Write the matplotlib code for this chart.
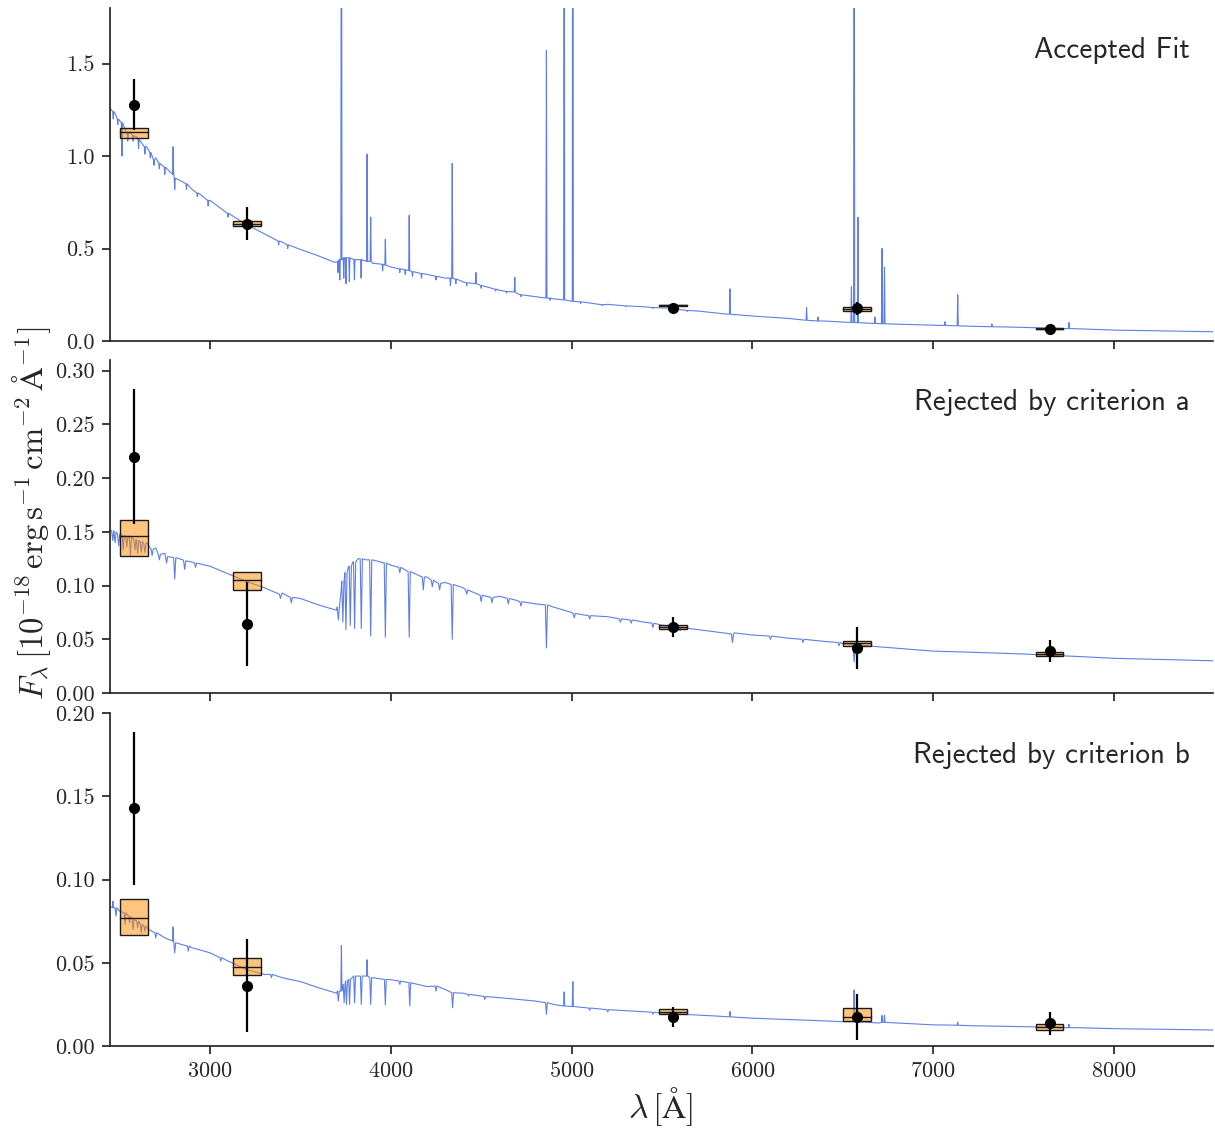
import numpy as np
import matplotlib
matplotlib.use("Agg")
import matplotlib.pyplot as plt
from matplotlib.patches import Rectangle

plt.rcParams.update({
    "font.family": "serif",
    "font.serif": ["cmr10"],
    "mathtext.fontset": "cm",
    "axes.formatter.use_mathtext": True,
})

# ---------------- photometric bands ----------------
band_wave = [2580, 3205, 5563, 6581, 7644]
band_halfwidth = [77, 77, 77, 77, 77]

# ---------------- panel 1: accepted fit ----------------
cont_wave_a = [2447, 2480, 2520, 2560, 2600, 2650, 2700, 2750, 2800, 2850, 2900, 2950,
               3000, 3100, 3200, 3300, 3400, 3500, 3600, 3690, 3760, 3820, 3900, 4000,
               4100, 4200, 4300, 4400, 4500, 4600, 4700, 4800, 4900, 5000, 5200, 5400,
               5550, 5700, 5850, 6000, 6200, 6400, 6520, 6650, 6800, 7000, 7200, 7400,
               7600, 7800, 8000, 8300, 8548]
cont_flux_a = [1.26, 1.22, 1.17, 1.13, 1.10, 1.05, 0.99, 0.94, 0.90, 0.86, 0.82, 0.79,
               0.76, 0.69, 0.63, 0.58, 0.535, 0.495, 0.46, 0.425, 0.45, 0.44, 0.42, 0.40,
               0.38, 0.36, 0.34, 0.32, 0.30, 0.275, 0.256, 0.24, 0.228, 0.215, 0.198, 0.185,
               0.177, 0.162, 0.146, 0.135, 0.122, 0.108, 0.101, 0.096, 0.091, 0.086, 0.080, 0.076,
               0.071, 0.066, 0.059, 0.054, 0.050]
emis_wave_a = [2796, 3727, 3869, 3889, 3970, 4102, 4340, 4471, 4686, 4861, 4959, 5007,
               5876, 6300, 6363, 6548, 6563, 6584, 6678, 6717, 6731, 7065, 7136, 7325, 7751]
emis_peak_a = [1.05, 4.0, 1.01, 0.67, 0.55, 0.68, 0.96, 0.37, 0.344, 1.57, 4.0, 4.0,
               0.282, 0.18, 0.13, 0.293, 4.0, 0.669, 0.129, 0.50, 0.40, 0.104, 0.25, 0.092, 0.10]
emis_base_a = [0.90, 0.44, 0.43, 0.43, 0.41, 0.38, 0.34, 0.31, 0.265, 0.232, 0.222, 0.214,
               0.145, 0.112, 0.108, 0.100, 0.100, 0.099, 0.095, 0.093, 0.093, 0.084, 0.082, 0.077, 0.067]
abs_wave_a = [2465, 2490, 2513, 2545, 2575, 2605, 2640, 2670, 2690, 2720, 2750, 2805, 2870,
              2930, 2990, 3100, 3380, 3430,
              3708, 3718, 3740, 3752, 3771, 3799, 3836, 3955, 4050, 4080, 4120, 4170, 4250,
              4330, 4360, 4420, 4500, 4580, 4640, 4720, 4880, 5050, 5170, 5300, 5450, 5640, 5900]
abs_depth_a = [1.20, 1.17, 1.00, 1.08, 1.08, 1.04, 1.01, 0.99, 0.95, 0.93, 0.90, 0.82, 0.82,
               0.78, 0.73, 0.67, 0.52, 0.50,
               0.37, 0.33, 0.34, 0.31, 0.32, 0.33, 0.34, 0.38, 0.37, 0.36, 0.35, 0.34, 0.33,
               0.30, 0.31, 0.30, 0.285, 0.27, 0.26, 0.24, 0.22, 0.203, 0.192, 0.185, 0.176, 0.160, 0.140]
abs_base_a = [1.24, 1.20, 1.18, 1.12, 1.11, 1.09, 1.05, 1.02, 0.98, 0.96, 0.94, 0.88, 0.85,
              0.80, 0.76, 0.69, 0.54, 0.52,
              0.43, 0.44, 0.45, 0.45, 0.45, 0.44, 0.44, 0.415, 0.39, 0.385, 0.375, 0.365, 0.35,
              0.34, 0.335, 0.315, 0.30, 0.28, 0.268, 0.25, 0.232, 0.212, 0.196, 0.190, 0.181, 0.165, 0.143]
model_lo_a = [1.100, 0.619, 0.190, 0.163, 0.064]
model_hi_a = [1.154, 0.649, 0.197, 0.185, 0.070]
model_med_a = [1.129, 0.634, 0.193, 0.174, 0.067]
obs_a = [1.278, 0.635, 0.178, 0.176, 0.065]
obs_err_a = [0.137, 0.087, 0.010, 0.036, 0.006]

# ---------------- panel 2: rejected by criterion a ----------------
cont_wave_b = [2447, 2500, 2550, 2600, 2650, 2700, 2750, 2800, 2850, 2900, 3000, 3100,
               3200, 3300, 3400, 3500, 3600, 3700, 3725, 3745, 3765, 3790, 3820, 3860,
               3920, 4000, 4100, 4200, 4300, 4400, 4500, 4605, 4700, 4800, 4900, 5000,
               5200, 5400, 5500, 5700, 5900, 6000, 6200, 6400, 6500, 6700, 7000, 7200,
               7500, 7800, 8000, 8300, 8548]
cont_flux_b = [0.152, 0.148, 0.146, 0.143, 0.140, 0.135, 0.130, 0.127, 0.124, 0.122, 0.118, 0.111,
               0.104, 0.098, 0.093, 0.088, 0.082, 0.077, 0.095, 0.108, 0.117, 0.122, 0.125, 0.124,
               0.123, 0.119, 0.113, 0.108, 0.103, 0.098, 0.091, 0.090, 0.086, 0.083, 0.080, 0.075,
               0.071, 0.066, 0.063, 0.059, 0.056, 0.054, 0.051, 0.048, 0.046, 0.043, 0.039, 0.038,
               0.0363, 0.034, 0.0323, 0.031, 0.030]
emis_wave_b = []
emis_peak_b = []
emis_base_b = []
abs_wave_b = [2462, 2475, 2495, 2520, 2540, 2560, 2585, 2600, 2620, 2640, 2680, 2720, 2760,
              2805, 2860, 2920, 3390, 3450,
              3710, 3735, 3752, 3776, 3800, 3837, 3889, 3970, 4050, 4102, 4180, 4230, 4270,
              4340, 4420, 4500, 4560, 4650, 4720, 4861, 5015, 5100, 5270, 5330, 5450, 5600,
              5890, 6100, 6280, 6480, 6563]
abs_depth_b = [0.142, 0.140, 0.137, 0.133, 0.136, 0.128, 0.133, 0.130, 0.131, 0.131, 0.128, 0.124, 0.121,
               0.106, 0.115, 0.117, 0.088, 0.084,
               0.068, 0.066, 0.059, 0.063, 0.060, 0.060, 0.053, 0.052, 0.112, 0.052, 0.096, 0.099, 0.096,
               0.050, 0.092, 0.085, 0.084, 0.083, 0.081, 0.042, 0.070, 0.069, 0.066, 0.065, 0.061, 0.058,
               0.047, 0.050, 0.047, 0.044, 0.029]
abs_base_b = [0.151, 0.150, 0.148, 0.147, 0.146, 0.145, 0.143, 0.142, 0.141, 0.139, 0.134, 0.129, 0.127,
              0.126, 0.123, 0.121, 0.092, 0.089,
              0.080, 0.104, 0.112, 0.118, 0.122, 0.125, 0.124, 0.121, 0.117, 0.113, 0.108, 0.105, 0.102,
              0.101, 0.096, 0.091, 0.089, 0.088, 0.085, 0.082, 0.074, 0.072, 0.069, 0.068, 0.065, 0.061,
              0.055, 0.053, 0.050, 0.047, 0.045]
model_lo_b = [0.1273, 0.0959, 0.0592, 0.0438, 0.0345]
model_hi_b = [0.1614, 0.1124, 0.0636, 0.0487, 0.0385]
model_med_b = [0.1459, 0.1052, 0.0614, 0.0462, 0.0365]
obs_b = [0.220, 0.0645, 0.0615, 0.0416, 0.0391]
obs_err_b = [0.063, 0.039, 0.009, 0.0196, 0.010]

# ---------------- panel 3: rejected by criterion b ----------------
cont_wave_c = [2447, 2500, 2600, 2660, 2750, 2800, 2900, 3000, 3100, 3200, 3300, 3400,
               3500, 3600, 3700, 3730, 3760, 3800, 3900, 4000, 4100, 4200, 4300, 4400,
               4500, 4605, 4800, 4900, 5000, 5200, 5500, 5800, 6000, 6300, 6500, 6700,
               7000, 7200, 7500, 7800, 8000, 8300, 8548]
cont_flux_c = [0.0839, 0.081, 0.075, 0.070, 0.065, 0.0628, 0.059, 0.056, 0.051, 0.046, 0.043, 0.041,
               0.0387, 0.035, 0.0317, 0.036, 0.040, 0.042, 0.041, 0.0398, 0.038, 0.0357, 0.034, 0.0317,
               0.030, 0.029, 0.027, 0.025, 0.0237, 0.022, 0.0197, 0.018, 0.0167, 0.0155, 0.0146, 0.0138,
               0.0127, 0.0122, 0.0116, 0.0110, 0.0104, 0.0100, 0.0096]
emis_wave_c = [2463, 2796, 3727, 3869, 4959, 5007, 5876, 6563, 6584, 6717, 6731, 7136, 7751]
emis_peak_c = [0.0870, 0.0715, 0.0604, 0.0518, 0.0325, 0.0386, 0.0207, 0.0337, 0.021, 0.0183, 0.0183,
               0.0143, 0.0130]
emis_base_c = [0.083, 0.063, 0.033, 0.042, 0.024, 0.0237, 0.0175, 0.0146, 0.0146, 0.0142, 0.0142,
               0.0125, 0.0110]
abs_wave_c = [2480, 2530, 2555, 2575, 2600, 2620, 2640, 2700, 2805, 2880, 3060, 3340,
              3710, 3742, 3755, 3772, 3800, 3837, 3889, 3970, 4050, 4105, 4250, 4342,
              4430, 4520, 4861, 5100, 5200, 5450]
abs_depth_c = [0.078, 0.073, 0.074, 0.070, 0.071, 0.068, 0.069, 0.065, 0.056, 0.057, 0.051, 0.041,
               0.027, 0.026, 0.025, 0.025, 0.026, 0.025, 0.025, 0.0247, 0.037, 0.024, 0.033, 0.0229,
               0.030, 0.028, 0.019, 0.0215, 0.0205, 0.019]
abs_base_c = [0.083, 0.080, 0.078, 0.076, 0.075, 0.073, 0.072, 0.068, 0.062, 0.060, 0.053, 0.043,
              0.033, 0.037, 0.039, 0.040, 0.042, 0.042, 0.041, 0.040, 0.039, 0.038, 0.036, 0.032,
              0.031, 0.0297, 0.026, 0.0228, 0.0218, 0.0203]
model_lo_c = [0.0667, 0.0426, 0.0191, 0.0152, 0.0095]
model_hi_c = [0.0884, 0.0526, 0.0221, 0.0227, 0.0133]
model_med_c = [0.0771, 0.0476, 0.0206, 0.0175, 0.0114]
obs_c = [0.1428, 0.0363, 0.0177, 0.0175, 0.0137]
obs_err_c = [0.046, 0.028, 0.006, 0.0137, 0.0068]

panel_titles = ["Accepted Fit", "Rejected by criterion a", "Rejected by criterion b"]
y_limits = [1.8, 0.31, 0.20]
y_ticks = [[0.0, 0.5, 1.0, 1.5],
           [0.0, 0.05, 0.10, 0.15, 0.20, 0.25, 0.30],
           [0.0, 0.05, 0.10, 0.15, 0.20]]
y_fmt = ["{:.1f}", "{:.2f}", "{:.2f}"]
x_ticks = [3000, 4000, 5000, 6000, 7000, 8000]


def assemble(cw, cf, ew, ep, eb, aw, ad, ab, e_half=3.0, a_half=5.0):
    """Merge continuum knots with narrow emission/absorption features."""
    windows = [(w, e_half) for w in ew] + [(w, a_half) for w in aw]
    pts = [(w, f) for w, f in zip(cw, cf)
           if all(abs(w - c) > h for c, h in windows)]
    for c, p, b in zip(ew, ep, eb):
        pts += [(c - e_half, b), (c, p), (c + e_half, b)]
    for c, p, b in zip(aw, ad, ab):
        pts += [(c - a_half, b), (c, p), (c + a_half, b)]
    pts.sort()
    arr = np.array(pts)
    return arr[:, 0], arr[:, 1]


spectra = [
    assemble(cont_wave_a, cont_flux_a, emis_wave_a, emis_peak_a, emis_base_a,
             abs_wave_a, abs_depth_a, abs_base_a, a_half=3.0),
    assemble(cont_wave_b, cont_flux_b, emis_wave_b, emis_peak_b, emis_base_b,
             abs_wave_b, abs_depth_b, abs_base_b, a_half=6.0),
    assemble(cont_wave_c, cont_flux_c, emis_wave_c, emis_peak_c, emis_base_c,
             abs_wave_c, abs_depth_c, abs_base_c, a_half=5.0),
]
models = [(model_lo_a, model_hi_a, model_med_a),
          (model_lo_b, model_hi_b, model_med_b),
          (model_lo_c, model_hi_c, model_med_c)]
observed = [(obs_a, obs_err_a), (obs_b, obs_err_b), (obs_c, obs_err_c)]

fig = plt.figure(figsize=(12.15, 11.31), dpi=100)
W, H = 1215.0, 1131.0
left, right = 110 / W, 1213 / W
panel_px = [(8, 341), (360, 693), (713, 1046)]
spine_col = "0.15"

axes = []
for i, (top, bot) in enumerate(panel_px):
    ax = fig.add_axes([left, 1 - bot / H, right - left, (bot - top) / H])
    axes.append(ax)
    wl, fl = spectra[i]
    ax.plot(wl, fl, color="royalblue", lw=0.8, alpha=0.85, zorder=1)

    lo, hi, med = models[i]
    for c, hw, l, h, m in zip(band_wave, band_halfwidth, lo, hi, med):
        ax.add_patch(Rectangle((c - hw, l), 2 * hw, h - l, facecolor="darkorange",
                               alpha=0.5, edgecolor="none", zorder=2))
        ax.add_patch(Rectangle((c - hw, l), 2 * hw, h - l, fill=False,
                               edgecolor="0.1", lw=1.0, zorder=3))
        ax.plot([c - hw, c + hw], [m, m], color="0.1", lw=1.0, zorder=3)

    val, err = observed[i]
    ax.errorbar(band_wave, val, yerr=err, fmt="o", color="k", ms=7,
                elinewidth=1.6, capsize=0, zorder=4)

    ax.set_xlim(2447, 8548)
    ax.set_ylim(0, y_limits[i])
    ax.set_xticks(x_ticks)
    ax.set_yticks(y_ticks[i])
    ax.set_yticklabels([y_fmt[i].format(v) for v in y_ticks[i]])
    if i < 2:
        ax.tick_params(labelbottom=False)
    for s in ("top", "right"):
        ax.spines[s].set_visible(False)
    for s in ("left", "bottom"):
        ax.spines[s].set_color(spine_col)
        ax.spines[s].set_linewidth(1.25)
    ax.tick_params(direction="out", length=6, width=1.25, color=spine_col,
                   labelcolor=spine_col, labelsize=16, pad=5)
    ax.text(0.979, 0.873, panel_titles[i], transform=ax.transAxes,
            ha="right", va="center", fontsize=21, family="cmss10", color="0.15")

fig.text(0.544, 0.022, r"$\lambda\,[\mathrm{Å}]$",
         ha="center", va="center", fontsize=24, color=spine_col)
fig.text(0.026, 0.546,
         r"$F_\lambda\,[10^{-18}\,\mathrm{erg\,s^{-1}\,cm^{-2}\,Å^{-1}}]$",
         rotation=90, ha="center", va="center", fontsize=23.5, color=spine_col)

fig.savefig("out.png", dpi=100)
